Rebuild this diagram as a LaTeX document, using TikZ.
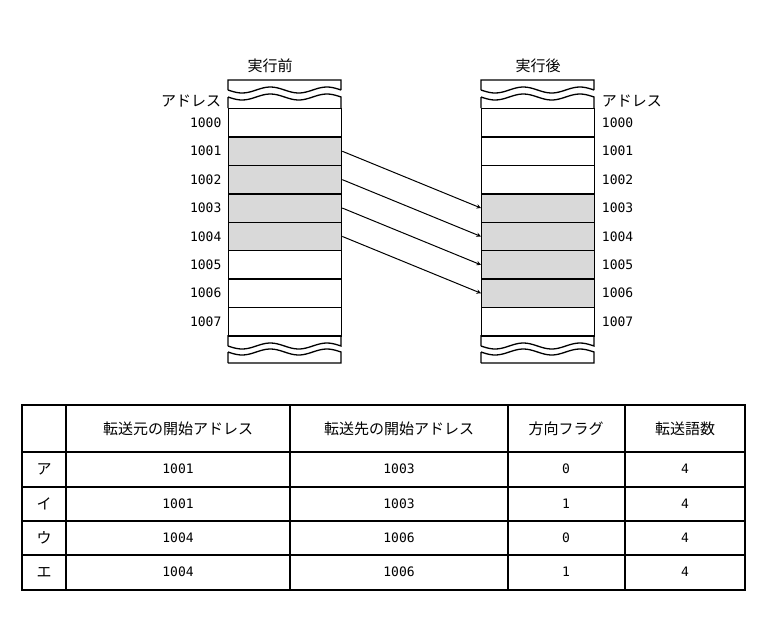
\documentclass[tikz,border=0pt]{standalone}
\usepackage{fontspec}
\setmainfont{Noto Sans CJK JP}
\newfontfamily\numfont{DejaVu Sans Mono}
\usetikzlibrary{positioning}

\begin{document}
\begin{tikzpicture}[x=1pt,y=-1pt,line width=1.3pt,>=stealth,
    cell/.style={draw,minimum width=113pt,minimum height=28.4pt,inner sep=0pt},
    busy/.style={cell,fill=gray!30},
    addr/.style={font=\numfont\fontsize{13}{13}\selectfont,inner sep=1pt},
    head/.style={font=\fontsize{15}{15}\selectfont},
    tcell/.style={font=\numfont\fontsize{13}{13}\selectfont}]
  \useasboundingbox (0,0) rectangle (762,627);

  % memory columns
  \foreach \side/\xo/\first/\last in {l/228/1/4,r/481/3/6} {
    \foreach \i in {0,...,7} {
      \pgfmathtruncatemacro{\inrange}{(\i>=\first)&&(\i<=\last)}
      \ifnum\inrange=1
        \node[busy,anchor=north west] (\side\i) at (\xo,{108+28.4*\i}) {};
      \else
        \node[cell,anchor=north west] (\side\i) at (\xo,{108+28.4*\i}) {};
      \fi
    }
    % broken ends
    \draw (\xo,90) -- (\xo,80) -- ({\xo+113},80) -- ({\xo+113},90)
      plot[domain=113:0,samples=40] ({\xo+\x},{90+3*sin(\x*6.372)});
    \draw (\xo,108) -- (\xo,97)
      plot[domain=0:113,samples=40] ({\xo+\x},{97+3*sin(\x*6.372)}) -- ({\xo+113},108);
    \draw (\xo,335) -- (\xo,346)
      plot[domain=0:113,samples=40] ({\xo+\x},{346+3*sin(\x*6.372)}) -- ({\xo+113},335);
    \draw (\xo,363) -- (\xo,352)
      plot[domain=0:113,samples=40] ({\xo+\x},{352+3*sin(\x*6.372)})
      -- ({\xo+113},363) -- (\xo,363);
  }

  \node[head] (before) at (270,66) {実行前};
  \node[head] (after) at (538,66) {実行後};
  \node[head,anchor=east] (laddr) at (225,101) {アドレス};
  \node[head,anchor=west] (raddr) at (598,101) {アドレス};

  \foreach \i in {0,...,7} {
    \node[addr,left=5pt of l\i] (ln\i) {100\i};
    \node[addr,right=5pt of r\i] (rn\i) {100\i};
  }

  % transfer arrows
  \foreach \i/\j in {1/3,2/4,3/5,4/6}
    \draw[->,line width=1pt] (l\i.east) -- (r\j.west);

  % table
  \draw (22,405) rectangle (745,590);
  \foreach \y in {452,487,521,555} \draw (22,\y) -- (745,\y);
  \foreach \x in {66,290,508,625} \draw (\x,405) -- (\x,590);

  \node[head] (h1) at (178,429) {転送元の開始アドレス};
  \node[head] (h2) at (399,429) {転送先の開始アドレス};
  \node[head] (h3) at (566,429) {方向フラグ};
  \node[head] (h4) at (685,429) {転送語数};

  \foreach \k/\y/\src/\dst/\flag in {ア/469/1001/1003/0,イ/504/1001/1003/1,
                                    ウ/538/1004/1006/0,エ/572/1004/1006/1} {
    \node[head] at (44,\y) {\k};
    \node[tcell] at (178,\y) {\src};
    \node[tcell] at (399,\y) {\dst};
    \node[tcell] at (566,\y) {\flag};
    \node[tcell] at (685,\y) {4};
  }
\end{tikzpicture}
\end{document}
